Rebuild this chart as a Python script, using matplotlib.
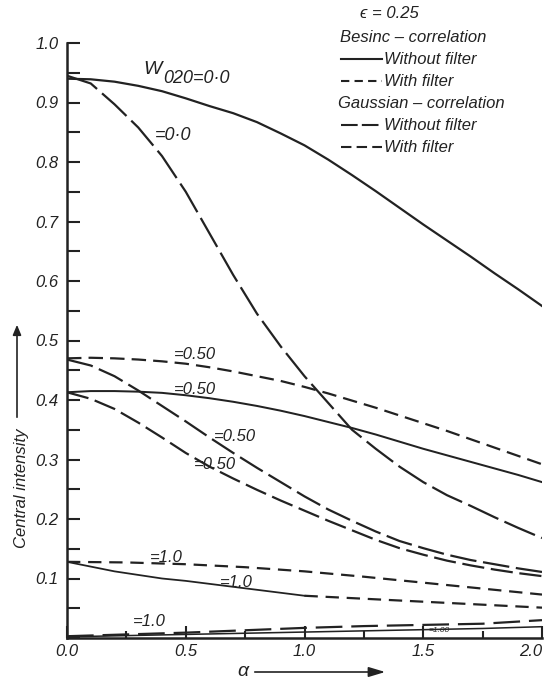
import numpy as np
import matplotlib.pyplot as plt
import matplotlib.transforms as mtransforms
from matplotlib.lines import Line2D
from matplotlib.patches import FancyArrowPatch
from matplotlib.ticker import MultipleLocator

# Central intensity vs alpha, eps = 0.25
# values

alpha = [0.0, 0.25, 0.5, 0.75, 1.0, 1.25, 1.5, 1.75, 2.0]
alpha_fine = [0.0, 0.1, 0.2, 0.3, 0.4, 0.5, 0.6, 0.7, 0.8, 0.9, 1.0,
              1.1, 1.2, 1.3, 1.4, 1.5, 1.6, 1.7, 1.8, 1.9, 2.0]

# W020 = 0.0
w00_solid = [0.940, 0.939, 0.935, 0.928, 0.919, 0.907, 0.894, 0.882, 0.867, 0.848, 0.828,
             0.804, 0.778, 0.751, 0.723, 0.695, 0.668, 0.641, 0.613, 0.586, 0.558]
w00_dash = [0.945, 0.932, 0.897, 0.858, 0.81, 0.75, 0.68, 0.61, 0.545, 0.49, 0.44,
            0.395, 0.35, 0.318, 0.288, 0.262, 0.24, 0.222, 0.203, 0.185, 0.168]

# W020 = 0.50
w05_short = [0.470, 0.471, 0.470, 0.468, 0.465, 0.461, 0.455, 0.448, 0.440, 0.432, 0.422,
             0.411, 0.399, 0.387, 0.374, 0.361, 0.348, 0.334, 0.320, 0.306, 0.292]
w05_solid = [0.413, 0.415, 0.415, 0.414, 0.412, 0.408, 0.403, 0.397, 0.390, 0.382, 0.373,
             0.363, 0.353, 0.342, 0.330, 0.318, 0.307, 0.296, 0.285, 0.274, 0.262]
w05_gauss_a = [0.468, 0.458, 0.440, 0.416, 0.390, 0.364, 0.337, 0.311, 0.286, 0.262, 0.238,
               0.216, 0.197, 0.179, 0.163, 0.151, 0.140, 0.131, 0.124, 0.117, 0.111]
w05_gauss_b = [0.413, 0.402, 0.385, 0.362, 0.337, 0.311, 0.288, 0.268, 0.249, 0.231, 0.214,
               0.197, 0.181, 0.165, 0.151, 0.140, 0.130, 0.122, 0.115, 0.109, 0.104]

# W020 = 1.0
w10_short = [0.128, 0.127, 0.124, 0.119, 0.112, 0.103, 0.093, 0.083, 0.073]
alpha_head = [0.0, 0.1, 0.2, 0.3, 0.4, 0.5, 0.6, 0.7, 0.8, 0.9, 1.0]
w10_solid = [0.128, 0.120, 0.112, 0.106, 0.100, 0.096, 0.091, 0.086, 0.081, 0.076, 0.071]
alpha_tail = [1.0, 1.25, 1.5, 1.75, 2.0]
w10_solid_tail = [0.071, 0.066, 0.061, 0.056, 0.051]
w10_low = [0.003, 0.006, 0.009, 0.013, 0.017, 0.02, 0.022, 0.024, 0.03]
w10_low2 = [0.002, 0.004, 0.006, 0.008, 0.01, 0.012, 0.014, 0.016, 0.019]

ink = '#222222'
plt.rcParams['font.family'] = ['Liberation Sans', 'DejaVu Sans']
plt.rcParams['font.style'] = 'italic'

W, H = 547, 683
fig = plt.figure(figsize=(W / 100, H / 100), dpi=100)
ax = fig.add_axes([67 / W, 1 - 638 / H, (542 - 67) / W, (638 - 43) / H])

lw = 1.6
ax.plot(alpha_fine, w00_solid, color=ink, lw=lw)
ax.plot(alpha_fine, w00_dash, color=ink, lw=lw, dashes=(15, 3))

ax.plot(alpha_fine, w05_short, color=ink, lw=lw, dashes=(6.5, 3.2))
ax.plot(alpha_fine, w05_solid, color=ink, lw=lw * 0.9)
ax.plot(alpha_fine, w05_gauss_a, color=ink, lw=lw, dashes=(12, 3))
ax.plot(alpha_fine, w05_gauss_b, color=ink, lw=lw, dashes=(10, 3))

ax.plot(alpha, w10_short, color=ink, lw=lw, dashes=(6, 3.5))
ax.plot(alpha_head, w10_solid, color=ink, lw=lw * 0.8)
ax.plot(alpha_tail, w10_solid_tail, color=ink, lw=lw, dashes=(6, 3.5))
ax.plot(alpha, w10_low, color=ink, lw=lw, dashes=(12, 4))
ax.plot(alpha, w10_low2, color=ink, lw=lw * 0.7)

# curve labels
lab = dict(color=ink, fontsize=12, style='italic', va='center', ha='left')
ax.text(0.32, 0.955, 'W', color=ink, fontsize=14, style='italic', va='center')
ax.text(0.405, 0.941, '020=0·0', color=ink, fontsize=13, style='italic', va='center')
ax.text(0.37, 0.845, '=0·0', color=ink, fontsize=13, style='italic', va='center')
ax.text(0.45, 0.477, '=0.50', **lab)
ax.text(0.45, 0.418, '=0.50', **lab)
ax.text(0.62, 0.338, '=0.50', **lab)
ax.text(0.535, 0.291, '=0.50', **lab)
ax.text(0.35, 0.136, '=1.0', **lab)
ax.text(0.645, 0.094, '=1.0', **lab)
ax.text(0.278, 0.027, '=1.0', **lab)
ax.text(1.52, 0.013, '=1.00', color=ink, fontsize=6, style='italic', va='center')

ax.set_xlim(0, 2.0)
ax.set_ylim(0, 1.0)
for s in ['top', 'right']:
    ax.spines[s].set_visible(False)
for s in ['left', 'bottom']:
    ax.spines[s].set_linewidth(1.8)
    ax.spines[s].set_color(ink)

ax.set_xticks([0.0, 0.5, 1.0, 1.5, 2.0])
ax.set_xticklabels(['0.0', '0.5', '1.0', '1.5', '2.0'])
ax.xaxis.set_minor_locator(MultipleLocator(0.25))
ax.set_yticks([0.1, 0.2, 0.3, 0.4, 0.5, 0.6, 0.7, 0.8, 0.9, 1.0])
ax.set_yticklabels(['0.1', '0.2', '0.3', '0.4', '0.5', '0.6', '0.7', '0.8', '0.9', '1.0'])
ax.yaxis.set_minor_locator(MultipleLocator(0.05))
ax.tick_params(axis='y', which='both', direction='in', length=9, width=1.5,
               color=ink, labelsize=12, pad=6)
ax.tick_params(axis='x', which='major', direction='in', length=9, width=1.5,
               color=ink, labelsize=12, pad=4)
ax.tick_params(axis='x', which='minor', direction='in', length=5, width=1.5, color=ink)
for t in ax.get_xticklabels() + ax.get_yticklabels():
    t.set_style('italic')
    t.set_color(ink)

# last x label sits left of its tick so it stays inside the figure
last = ax.get_xticklabels()[-1]
last.set_transform(last.get_transform() +
                   mtransforms.ScaledTranslation(-11 / 100, 0, fig.dpi_scale_trans))


def fx(px):
    return px / W


def fy(py):
    return 1 - py / H


# axis titles with arrows
fig.text(fx(22), fy(488), 'Central intensity', rotation=90, ha='center', va='center',
         fontsize=12, color=ink)
fig.add_artist(FancyArrowPatch(
    (fx(17), fy(420)), (fx(17), fy(322)), transform=fig.transFigure,
    arrowstyle='-|>,head_length=6,head_width=2.5', color=ink, lw=1.2))
fig.text(fx(243), fy(672), 'α', ha='center', va='center', fontsize=14, color=ink)
fig.add_artist(FancyArrowPatch(
    (fx(252), fy(672)), (fx(388), fy(672)), transform=fig.transFigure,
    arrowstyle='-|>,head_length=10,head_width=3', color=ink, lw=1.2))

# legend block
leg = dict(fontsize=12, color=ink, va='center', ha='left')
fig.text(fx(360), fy(14), 'ϵ = 0.25', **leg)
fig.text(fx(340), fy(37), 'Besinc – correlation', **leg)
fig.text(fx(384), fy(59), 'Without filter', **leg)
fig.text(fx(384), fy(81), 'With filter', **leg)
fig.text(fx(338), fy(103), 'Gaussian – correlation', **leg)
fig.text(fx(384), fy(125), 'Without filter', **leg)
fig.text(fx(384), fy(147), 'With filter', **leg)

samples = [(59, None), (81, (4, 2.5)), (125, (8, 2)), (147, (5, 2.5))]
for py, d in samples:
    ln = Line2D([fx(341), fx(382)], [fy(py), fy(py)], transform=fig.transFigure,
                color=ink, lw=1.5)
    if d is not None:
        ln.set_dashes(d)
    fig.add_artist(ln)

fig.savefig('out.png', dpi=100, facecolor='white')
